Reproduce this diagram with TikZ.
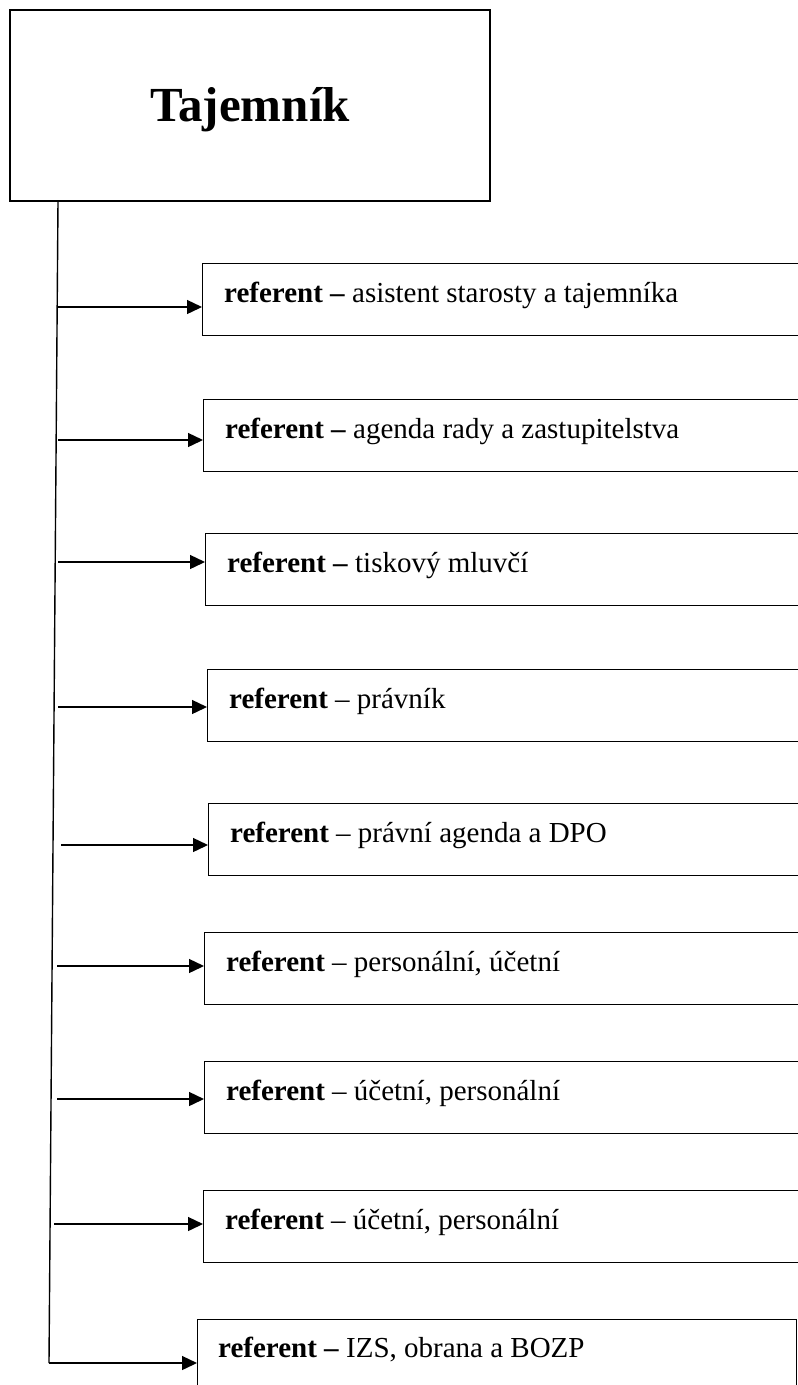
\documentclass[tikz,border=0pt]{standalone}
\usepackage{fontspec}
\setmainfont{Liberation Serif}
\usetikzlibrary{arrows.meta,positioning}

\begin{document}
\begin{tikzpicture}[x=1pt,y=-1pt,
		box/.style={draw,line width=1.4pt,anchor=north west,minimum width=620pt,minimum height=72pt,inner sep=0pt},
		lbl/.style={anchor=base west,inner sep=0pt,font=\fontsize{29}{34}\selectfont},
		arr/.style={line width=1.4pt,-{Triangle[length=15pt,width=14pt]}}]
		\useasboundingbox (0,0) rectangle (798,1385);

		\node[draw,line width=1.4pt,minimum width=480pt,minimum height=191pt,
			font=\bfseries\fontsize{49}{56}\selectfont,text height=33pt,text depth=2pt] (boss) at (250,105.5) {Tajemník};

		% spine
		\coordinate (s0) at (58,0);
		\coordinate (s9) at (49,1363);
		\draw[line width=1.4pt] (boss.south -| s0) -- (s9);

		\node[box] (r1) at (202,263) {};
		\node[lbl] (t1) at ([xshift=22pt,yshift=-39pt]r1.north west) {\textbf{referent –} asistent starosty a tajemníka};
		\coordinate (s1) at (58,307);
		\draw[arr] (s1) -- (s1 -| r1.west);

		\node[box] (r2) at (203,399) {};
		\node[lbl] (t2) at ([xshift=22pt,yshift=-39pt]r2.north west) {\textbf{referent –} agenda rady a zastupitelstva};
		\coordinate (s2) at (58,440);
		\draw[arr] (s2) -- (s2 -| r2.west);

		\node[box] (r3) at (205,533) {};
		\node[lbl] (t3) at ([xshift=22pt,yshift=-39pt]r3.north west) {\textbf{referent –} tiskový mluvčí};
		\coordinate (s3) at (58,562);
		\draw[arr] (s3) -- (s3 -| r3.west);

		\node[box] (r4) at (207,669) {};
		\node[lbl] (t4) at ([xshift=22pt,yshift=-39pt]r4.north west) {\textbf{referent} – právník};
		\coordinate (s4) at (58,707);
		\draw[arr] (s4) -- (s4 -| r4.west);

		\node[box] (r5) at (208,803) {};
		\node[lbl] (t5) at ([xshift=22pt,yshift=-39pt]r5.north west) {\textbf{referent} – právní agenda a DPO};
		\coordinate (s5) at (61,845);
		\draw[arr] (s5) -- (s5 -| r5.west);

		\node[box] (r6) at (204,932) {};
		\node[lbl] (t6) at ([xshift=22pt,yshift=-39pt]r6.north west) {\textbf{referent} – personální, účetní};
		\coordinate (s6) at (57,966);
		\draw[arr] (s6) -- (s6 -| r6.west);

		\node[box] (r7) at (204,1061) {};
		\node[lbl] (t7) at ([xshift=22pt,yshift=-39pt]r7.north west) {\textbf{referent} – účetní, personální};
		\coordinate (s7) at (57,1099);
		\draw[arr] (s7) -- (s7 -| r7.west);

		\node[box] (r8) at (203,1190) {};
		\node[lbl] (t8) at ([xshift=22pt,yshift=-39pt]r8.north west) {\textbf{referent} – účetní, personální};
		\coordinate (s8) at (54,1224);
		\draw[arr] (s8) -- (s8 -| r8.west);

		\node[box,minimum width=599pt] (r9) at (197,1319) {};
		\node[lbl] (t9) at ([xshift=21pt,yshift=-38pt]r9.north west) {\textbf{referent –} IZS, obrana a BOZP};
		\draw[arr] (s9) -- (s9 -| r9.west);
	\end{tikzpicture}
\end{document}
